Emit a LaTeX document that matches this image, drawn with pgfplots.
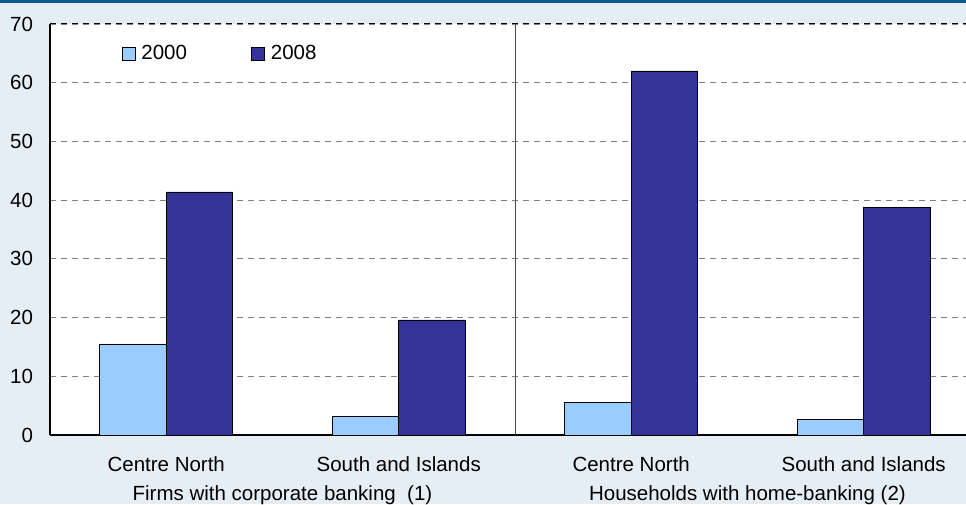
\documentclass[border=0pt]{standalone}
\usepackage{fontspec}
\setmainfont{Liberation Sans}
\usepackage{pgfplots}
\pgfplotsset{compat=1.18}
\definecolor{bgc}{HTML}{E6EEF5}
\definecolor{topc}{HTML}{0B5A8C}
\definecolor{cA}{HTML}{99CCFF}
\definecolor{cB}{HTML}{333399}
\newcommand{\ff}{\fontsize{20.5}{24}\selectfont}
\begin{document}
\ff
\begin{tikzpicture}
\fill[bgc] (-50pt,-69pt) rectangle (916pt,435pt);
\fill[topc] (-50pt,432pt) rectangle (916pt,435pt);
\useasboundingbox (-50pt,-69pt) rectangle (916pt,435pt);
\begin{axis}[
  at={(0pt,0pt)}, anchor=south west,
  scale only axis, width=916pt, height=411pt,
  xmin=-0.5, xmax=3.44, ymin=0, ymax=70,
  axis background/.style={fill=white},
  ybar=0pt, bar width=66.5pt,
  axis x line*=bottom, axis y line*=left,
  axis line style={line width=1.2pt, black},
  x axis line style={-}, y axis line style={-},
  xtick={0,1,2,3},
  xticklabels={Centre North,South and Islands,Centre North,South and Islands},
  ytick={0,10,...,70},
  major tick length=0pt,
  ymajorgrids,
  major grid style={dash pattern=on 6pt off 5pt, gray, line width=0.8pt},
  tick label style={font=\ff},
  /pgf/number format/assume math mode=true,
  xticklabel style={yshift=-15pt},
  yticklabel style={xshift=-10pt},
  legend style={draw=none, fill=none, at={(0.078,0.927)}, anchor=west,
    legend columns=2, inner sep=0pt,
    font=\ff,
    /tikz/every odd column/.append style={column sep=4pt},
    /tikz/every even column/.append style={column sep=62pt}},
  legend image code/.code={\draw[#1,draw=black,line width=0.8pt] (0pt,-6.5pt) rectangle (13pt,6.5pt);},
  clip=false,
]
\addplot[fill=cA, draw=black, line width=0.8pt] coordinates {(0,15.5) (1,3.2) (2,5.5) (3,2.7)};
\addlegendentry{2000}
\addplot[fill=cB, draw=black, line width=0.8pt] coordinates {(0,41.4) (1,19.6) (2,62.0) (3,38.7)};
\addlegendentry{2008}
\draw[dash pattern=on 6pt off 5pt, black, line width=1pt] (axis cs:-0.5,70) -- (axis cs:3.44,70);
\draw[gray!60!black, line width=0.8pt] (axis cs:1.5,0) -- (axis cs:1.5,70);
\node[font=\ff] at ([yshift=-60pt]axis cs:0.5,0) {Firms with corporate banking\ \ (1)};
\node[font=\ff] at ([yshift=-60pt]axis cs:2.5,0) {Households with home-banking (2)};
\end{axis}
\end{tikzpicture}
\end{document}
